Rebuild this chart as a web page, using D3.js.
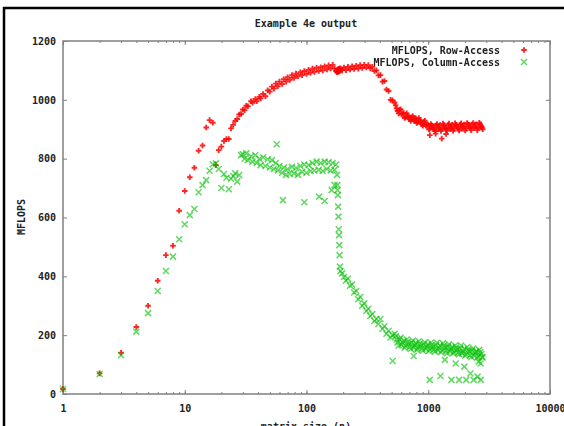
<!DOCTYPE html>
<html>
<head>
<meta charset="utf-8">
<script src="https://cdn.jsdelivr.net/npm/d3@7"></script>
<style>
  body { margin: 0; background: #fff; }
  text { font-family: "DejaVu Sans Mono", monospace; font-size: 10px; font-weight: bold; fill: #222; }
</style>
</head>
<body>
<div class="chart"></div>
<script>
// matrix sizes (n) shared by both series
var sizes = [1, 2, 3, 4, 5, 6, 7, 8, 9, 10, 11, 12, 13, 14, 15, 16, 17, 18, 19, 20, 21, 22, 23,
    24, 25, 26, 27, 28, 29, 30, 31, 32, 33, 35, 36, 38, 39, 41, 42, 44, 46, 48, 50, 52, 54, 56, 58,
    60, 63, 65, 68, 70, 73, 76, 79, 82, 85, 89, 92, 96, 100, 104, 108, 112, 116, 121, 126, 131, 136,
    141, 147, 152, 158, 164, 170, 175, 178, 179, 180, 181, 182, 183, 184, 185, 186, 187, 188, 190,
    196, 203, 211, 219, 228, 237, 246, 256, 266, 276, 287, 298, 310, 322, 334, 347, 361, 375, 390,
    405, 421, 437, 454, 472, 490, 509, 529, 550, 571, 593, 616, 640, 665, 691, 718, 746, 775, 805,
    836, 869, 903, 938, 974, 1012, 1051, 1092, 1135, 1179, 1225, 1272, 1322, 1373, 1426, 1482, 1539,
    1599, 1661, 1726, 1793, 1862, 1935, 2010, 2088, 2169, 2253, 2341, 2432, 2526, 2624, 2726, 2800];

var rowAccess = [17, 70, 140, 228, 300, 385, 472, 504, 623, 690, 737, 769, 827, 845, 906, 931, 922, 778, 829, 841, 860, 867, 867,
    903, 915, 928, 935, 950, 952, 967, 965, 980, 978, 995, 990, 1003, 995, 1010, 1005, 1020, 1012, 1032, 1028, 1045, 1038, 1055, 1046,
    1062, 1054, 1070, 1062, 1077, 1068, 1084, 1074, 1089, 1080, 1094, 1084, 1098, 1088, 1102, 1092, 1106, 1095, 1109, 1098, 1111, 1100,
    1114, 1103, 1117, 1107, 1119, 1106, 1098, 1094, 1102, 1096, 1104, 1095, 1103, 1097, 1105, 1098, 1106, 1099, 1107,
    1100, 1110, 1101, 1112, 1103, 1114, 1105, 1116, 1106, 1118, 1108, 1119, 1110, 1118, 1107, 1112, 1098, 1100, 1083,
    1084, 1062, 1064, 1035, 1030, 1000, 998, 991, 971, 954, 968, 953, 938, 954, 941, 928, 945, 933, 921,
    938, 925, 912, 929, 915, 900, 918, 906, 894, 918, 906, 894, 919, 907, 895, 919, 907,
    895, 920, 908, 896, 920, 908, 896, 921, 909, 897, 921, 909, 897, 922, 910, 900];

var colAccess = [17, 68, 132, 212, 275, 350, 418, 467, 526, 577, 608, 629, 686, 710, 727, 759, 781, 784, 765, 700, 748, 735, 696,
    732, 741, 750, 722, 744, 812, 815, 800, 818, 795, 808, 790, 812, 785, 800, 778, 805, 775, 798, 770, 795, 765, 785, 760,
    775, 752, 770, 745, 765, 748, 772, 750, 768, 745, 775, 755, 780, 752, 778, 758, 785, 760, 790, 762, 785, 758,
    790, 765, 788, 760, 785, 762, 780, 745, 710, 693, 676, 637, 603, 560, 540, 506, 472, 433, 418,
    410, 398, 385, 392, 368, 372, 345, 350, 322, 330, 300, 308, 282, 290, 265, 272, 248, 255, 238,
    255, 222, 230, 205, 215, 192, 200, 205, 185, 165, 192, 174, 157, 185, 169, 153, 182, 166, 150,
    179, 163, 147, 176, 161, 146, 174, 159, 144, 174, 157, 142, 172, 157, 139, 169, 154,
    139, 165, 150, 135, 165, 145, 130, 160, 145, 126, 155, 140, 123, 150, 136, 124];

// extra sizes in the large-n tail, where the runs are packed tightly
var tailSizes = [540, 560, 582, 604, 628, 652, 678, 704, 732, 760, 790, 820, 852, 886, 920, 956, 993, 1031,
    1071, 1113, 1157, 1202, 1248, 1297, 1347, 1399, 1454, 1510, 1569, 1630, 1693, 1759, 1827, 1898, 1972,
    2049, 2128, 2211, 2297, 2386, 2479, 2575, 2675, 2763];
var rowTail = [981, 962, 966, 950, 955, 941, 947, 934, 941, 929, 937, 924, 931, 918, 925, 912, 917, 903,
    913, 900, 913, 900, 914, 901, 914, 901, 914, 901, 915, 902, 915, 902, 915, 903, 916,
    903, 916, 904, 916, 904, 917, 904, 917, 906];
var colTail = [196, 175, 186, 167, 181, 163, 177, 160, 175, 158, 173, 156, 171, 154, 169, 153, 168, 152,
    167, 151, 166, 149, 165, 148, 164, 147, 162, 145, 160, 143, 158, 140, 155, 138, 153,
    135, 150, 132, 147, 130, 145, 128, 143, 126];

// stray measurements off the main bands
var rowExtraN = [1030, 1150, 1290, 1400];
var rowExtraV = [880, 885, 868, 884];
var colExtraN = [57, 64, 96, 127, 141, 161, 170, 510, 760, 1030, 1260, 1370, 1550, 1680, 1790, 1980, 2050, 2220, 2360, 2540, 2600, 2690, 2700];
var colExtraV = [849, 659, 652, 671, 656, 693, 710, 112, 129, 48, 61, 116, 48, 104, 48, 93, 48, 70, 48, 59, 110, 104, 48];

var xTicks = [1, 10, 100, 1000, 10000];
var yTicks = [0, 200, 400, 600, 800, 1000, 1200];
var seriesNames = ["MFLOPS, Row-Access", "MFLOPS, Column-Access"];

var W = 564, H = 426;
var plotL = 63, plotR = 550, plotT = 41, plotB = 394;

var svg = d3.select(".chart").append("svg")
    .attr("width", W)
    .attr("height", H);

var defs = svg.append("defs");
defs.append("filter").attr("id", "soft")
    .append("feGaussianBlur").attr("stdDeviation", 0.35);

var x = d3.scaleLog().domain([1, 10000]).range([plotL, plotR]);
var y = d3.scaleLinear().domain([0, 1200]).range([plotB, plotT]);

// outer black frame (only top and left edge show)
svg.append("rect")
    .attr("x", 4).attr("y", 8)
    .attr("width", 700).attr("height", 600)
    .style("fill", "none")
    .style("stroke", "#000")
    .style("stroke-width", 2.5);

function styleAxis(g) {
    g.select(".domain").remove();
    g.selectAll(".tick line").style("stroke", "#808080").style("stroke-width", 1);
    g.selectAll(".tick text").style("fill", "#222");
}

// minor + major ticks, pointing inwards
svg.append("g").attr("transform", "translate(0," + plotB + ")")
    .call(d3.axisBottom(x).tickValues(x.ticks()).tickSize(-2).tickFormat(""))
    .call(styleAxis);
svg.append("g").attr("transform", "translate(0," + plotT + ")")
    .call(d3.axisTop(x).tickValues(x.ticks()).tickSize(-2).tickFormat(""))
    .call(styleAxis);
svg.append("g").attr("transform", "translate(0," + plotB + ")")
    .call(d3.axisBottom(x).tickValues(xTicks).tickSize(-4).tickPadding(11).tickFormat(d3.format("d")))
    .call(styleAxis);
svg.append("g").attr("transform", "translate(0," + plotT + ")")
    .call(d3.axisTop(x).tickValues(xTicks).tickSize(-4).tickFormat(""))
    .call(styleAxis);
svg.append("g").attr("transform", "translate(" + plotL + ",0)")
    .call(d3.axisLeft(y).tickValues(yTicks).tickSize(-4).tickPadding(7).tickFormat(d3.format("d")))
    .call(styleAxis);
svg.append("g").attr("transform", "translate(" + plotR + ",0)")
    .call(d3.axisRight(y).tickValues(yTicks).tickSize(-4).tickFormat(""))
    .call(styleAxis);

svg.selectAll("g text").attr("font-size", null).attr("font-family", null);

svg.append("rect")
    .attr("x", plotL).attr("y", plotT)
    .attr("width", plotR - plotL).attr("height", plotB - plotT)
    .style("fill", "none")
    .style("stroke", "#808080")
    .style("stroke-width", 1.5);

var plusPath = "M-2.8,0H2.8M0,-2.8V2.8";
var crossPath = "M-3,-3L3,3M-3,3L3,-3";

function pairs(ns, vs) {
    return ns.map(function(n, i) { return [n, vs[i]]; });
}
var rowPts = pairs(sizes, rowAccess).concat(pairs(tailSizes, rowTail), pairs(rowExtraN, rowExtraV));
var colPts = pairs(sizes, colAccess).concat(pairs(tailSizes, colTail), pairs(colExtraN, colExtraV));

var marks = svg.append("g").attr("filter", "url(#soft)");

marks.append("g").selectAll("path").data(rowPts).enter()
    .append("path")
    .attr("transform", function(d) { return "translate(" + x(d[0]) + "," + y(d[1]) + ")"; })
    .attr("d", plusPath)
    .style("stroke", "#ff0000")
    .style("stroke-opacity", 0.85)
    .style("stroke-width", 1.9);

marks.append("g").selectAll("path").data(colPts).enter()
    .append("path")
    .attr("transform", function(d) { return "translate(" + x(d[0]) + "," + y(d[1]) + ")"; })
    .attr("d", crossPath)
    .style("stroke", "#00c000")
    .style("stroke-opacity", 0.62)
    .style("stroke-width", 1.5);

// title and axis labels
svg.append("text").attr("x", 306).attr("y", 27)
    .attr("text-anchor", "middle").text("Example 4e output");
svg.append("text").attr("x", 306).attr("y", 430)
    .attr("text-anchor", "middle").text("matrix size (n)");
svg.append("text")
    .attr("transform", "translate(25,217) rotate(-90)")
    .attr("text-anchor", "middle").text("MFLOPS");

// legend
var legend = svg.append("g").selectAll("g").data(seriesNames).enter()
    .append("g")
    .attr("filter", "url(#soft)")
    .attr("transform", function(d, i) { return "translate(0," + (50 + i * 12) + ")"; });
legend.append("text")
    .attr("x", 500).attr("y", 3.5)
    .attr("text-anchor", "end")
    .text(function(d) { return d; });
legend.append("path")
    .attr("transform", "translate(524,0)")
    .attr("d", function(d, i) { return i === 0 ? plusPath : crossPath; })
    .style("stroke", function(d, i) { return i === 0 ? "#ff0000" : "#00c000"; })
    .style("stroke-opacity", function(d, i) { return i === 0 ? 0.85 : 0.62; })
    .style("stroke-width", function(d, i) { return i === 0 ? 1.9 : 1.5; });
</script>
</body>
</html>
